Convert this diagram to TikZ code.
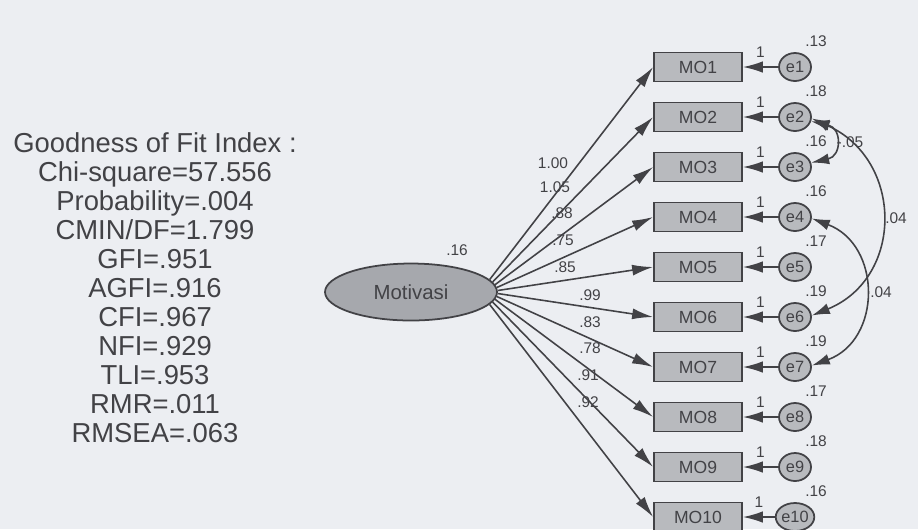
\documentclass[tikz,border=0pt]{standalone}
\usepackage{fontspec}
\setmainfont{Liberation Sans}
\usetikzlibrary{positioning,arrows.meta,shapes.geometric,calc}
\definecolor{paper}{RGB}{236,238,242}
\definecolor{ink}{RGB}{66,66,70}
\definecolor{boxfill}{RGB}{184,186,190}
\definecolor{latfill}{RGB}{166,168,173}
\tikzset{
  patharrow/.style={-{Latex[length=4.2mm,width=2.2mm]}, line width=0.9pt, draw=ink},
  errarrow/.style={-{Latex[length=4mm,width=2.3mm]}, line width=0.9pt, draw=ink},
  covarrow/.style={{Latex[length=3.6mm,width=2.2mm]}-{Latex[length=3.6mm,width=2.2mm]}, line width=0.9pt, draw=ink},
  indicator/.style={draw=ink, line width=1pt, fill=boxfill, minimum width=1.76cm, minimum height=0.58cm, inner sep=0pt, font=\fontsize{10}{12}\selectfont, text=ink},
  errterm/.style={ellipse, draw=ink, line width=1pt, fill=boxfill, minimum width=0.64cm, minimum height=0.56cm, inner sep=0pt, font=\fontsize{9.3}{11}\selectfont, text=ink},
  latent/.style={ellipse, draw=ink, line width=1pt, fill=latfill, minimum width=3.44cm, minimum height=1.14cm, inner sep=0pt, font=\fontsize{11.6}{14}\selectfont, text=ink},
  estlabel/.style={font=\fontsize{8.8}{10}\selectfont, text=ink, inner sep=1pt},
  fitlist/.style={align=center, font=\fontsize{15.6}{16.5}\selectfont, text=ink}
}

\begin{document}
\begin{tikzpicture}[x=0.02cm, y=-0.02cm]
  \fill[paper] (0,0) rectangle (918,529);
  \useasboundingbox (0,0) rectangle (918,529);
  % fit indices
  \node[fitlist] (gof) at (155,288) {Goodness of Fit Index :\\ Chi-square=57.556\\ Probability=.004\\ CMIN/DF=1.799\\ GFI=.951\\ AGFI=.916\\ CFI=.967\\ NFI=.929\\ TLI=.953\\ RMR=.011\\ RMSEA=.063};
  % latent variable
  \node[latent] (mot) at (411,292) {Motivasi};
  \node[estlabel] (motvar) at (457,250) {.16};
  % indicators
  \node[indicator] (mo1) at (698,67) {MO1};
  \node[indicator] (mo2) at (698,117) {MO2};
  \node[indicator] (mo3) at (698,167) {MO3};
  \node[indicator] (mo4) at (698,217) {MO4};
  \node[indicator] (mo5) at (698,267) {MO5};
  \node[indicator] (mo6) at (698,317) {MO6};
  \node[indicator] (mo7) at (698,367) {MO7};
  \node[indicator] (mo8) at (698,417) {MO8};
  \node[indicator] (mo9) at (698,467) {MO9};
  \node[indicator] (mo10) at (698,517) {MO10};
  % error terms
  \node[errterm] (e1) at (795,67) {e1};
  \node[errterm] (e2) at (795,117) {e2};
  \node[errterm] (e3) at (795,167) {e3};
  \node[errterm] (e4) at (795,217) {e4};
  \node[errterm] (e5) at (795,267) {e5};
  \node[errterm] (e6) at (795,317) {e6};
  \node[errterm] (e7) at (795,367) {e7};
  \node[errterm] (e8) at (795,417) {e8};
  \node[errterm] (e9) at (795,467) {e9};
  \node[errterm] (e10) at (795,517) {e10};
  % error variances
  \node[estlabel] (v1) at (816,41) {.13};
  \node[estlabel] (v2) at (816,91) {.18};
  \node[estlabel] (v3) at (816,141) {.16};
  \node[estlabel] (v4) at (816,191) {.16};
  \node[estlabel] (v5) at (816,241) {.17};
  \node[estlabel] (v6) at (816,291) {.19};
  \node[estlabel] (v7) at (816,341) {.19};
  \node[estlabel] (v8) at (816,391) {.17};
  \node[estlabel] (v9) at (816,441) {.18};
  \node[estlabel] (v10) at (816,491) {.16};
  % error paths
  \draw[errarrow] (e1) -- node[estlabel, above=4pt] {1} (mo1);
  \draw[errarrow] (e2) -- node[estlabel, above=4pt] {1} (mo2);
  \draw[errarrow] (e3) -- node[estlabel, above=4pt] {1} (mo3);
  \draw[errarrow] (e4) -- node[estlabel, above=4pt] {1} (mo4);
  \draw[errarrow] (e5) -- node[estlabel, above=4pt] {1} (mo5);
  \draw[errarrow] (e6) -- node[estlabel, above=4pt] {1} (mo6);
  \draw[errarrow] (e7) -- node[estlabel, above=4pt] {1} (mo7);
  \draw[errarrow] (e8) -- node[estlabel, above=4pt] {1} (mo8);
  \draw[errarrow] (e9) -- node[estlabel, above=4pt] {1} (mo9);
  \draw[errarrow] (e10) -- node[estlabel, above=4pt] {1} (mo10);
  % loadings
  \draw[patharrow] (mot.9) -- (mo1.west);
  \draw[patharrow] (mot.7) -- (mo2.west);
  \draw[patharrow] (mot.5) -- (mo3.west);
  \draw[patharrow] (mot.3) -- (mo4.west);
  \draw[patharrow] (mot.1) -- (mo5.west);
  \draw[patharrow] (mot.-1) -- (mo6.west);
  \draw[patharrow] (mot.-3) -- (mo7.west);
  \draw[patharrow] (mot.-5) -- (mo8.west);
  \draw[patharrow] (mot.-7) -- (mo9.west);
  \draw[patharrow] (mot.-9) -- (mo10.west);
  \node[estlabel] (l1) at (553,163) {1.00};
  \node[estlabel] (l2) at (555,187) {1.05};
  \node[estlabel] (l3) at (562,213) {.88};
  \node[estlabel] (l4) at (563,240) {.75};
  \node[estlabel] (l5) at (565,267) {.85};
  \node[estlabel] (l6) at (590,295) {.99};
  \node[estlabel] (l7) at (590,322) {.83};
  \node[estlabel] (l8) at (590,348) {.78};
  \node[estlabel] (l9) at (588,375) {.91};
  \node[estlabel] (l10) at (588,402) {.92};
  % covariances
  \draw[covarrow] (e2.-15) .. controls (842,128) and (842,156) .. (e3.15);
  \draw[covarrow] (e2.-5) .. controls (904,160) and (904,278) .. (e6.5);
  \draw[covarrow] (e4.-5) .. controls (882,245) and (882,340) .. (e7.5);
  \node[estlabel] (c23) at (850,142) {-.05};
  \node[estlabel] (c26) at (896,218) {.04};
  \node[estlabel] (c47) at (881,292) {.04};
\end{tikzpicture}
\end{document}
